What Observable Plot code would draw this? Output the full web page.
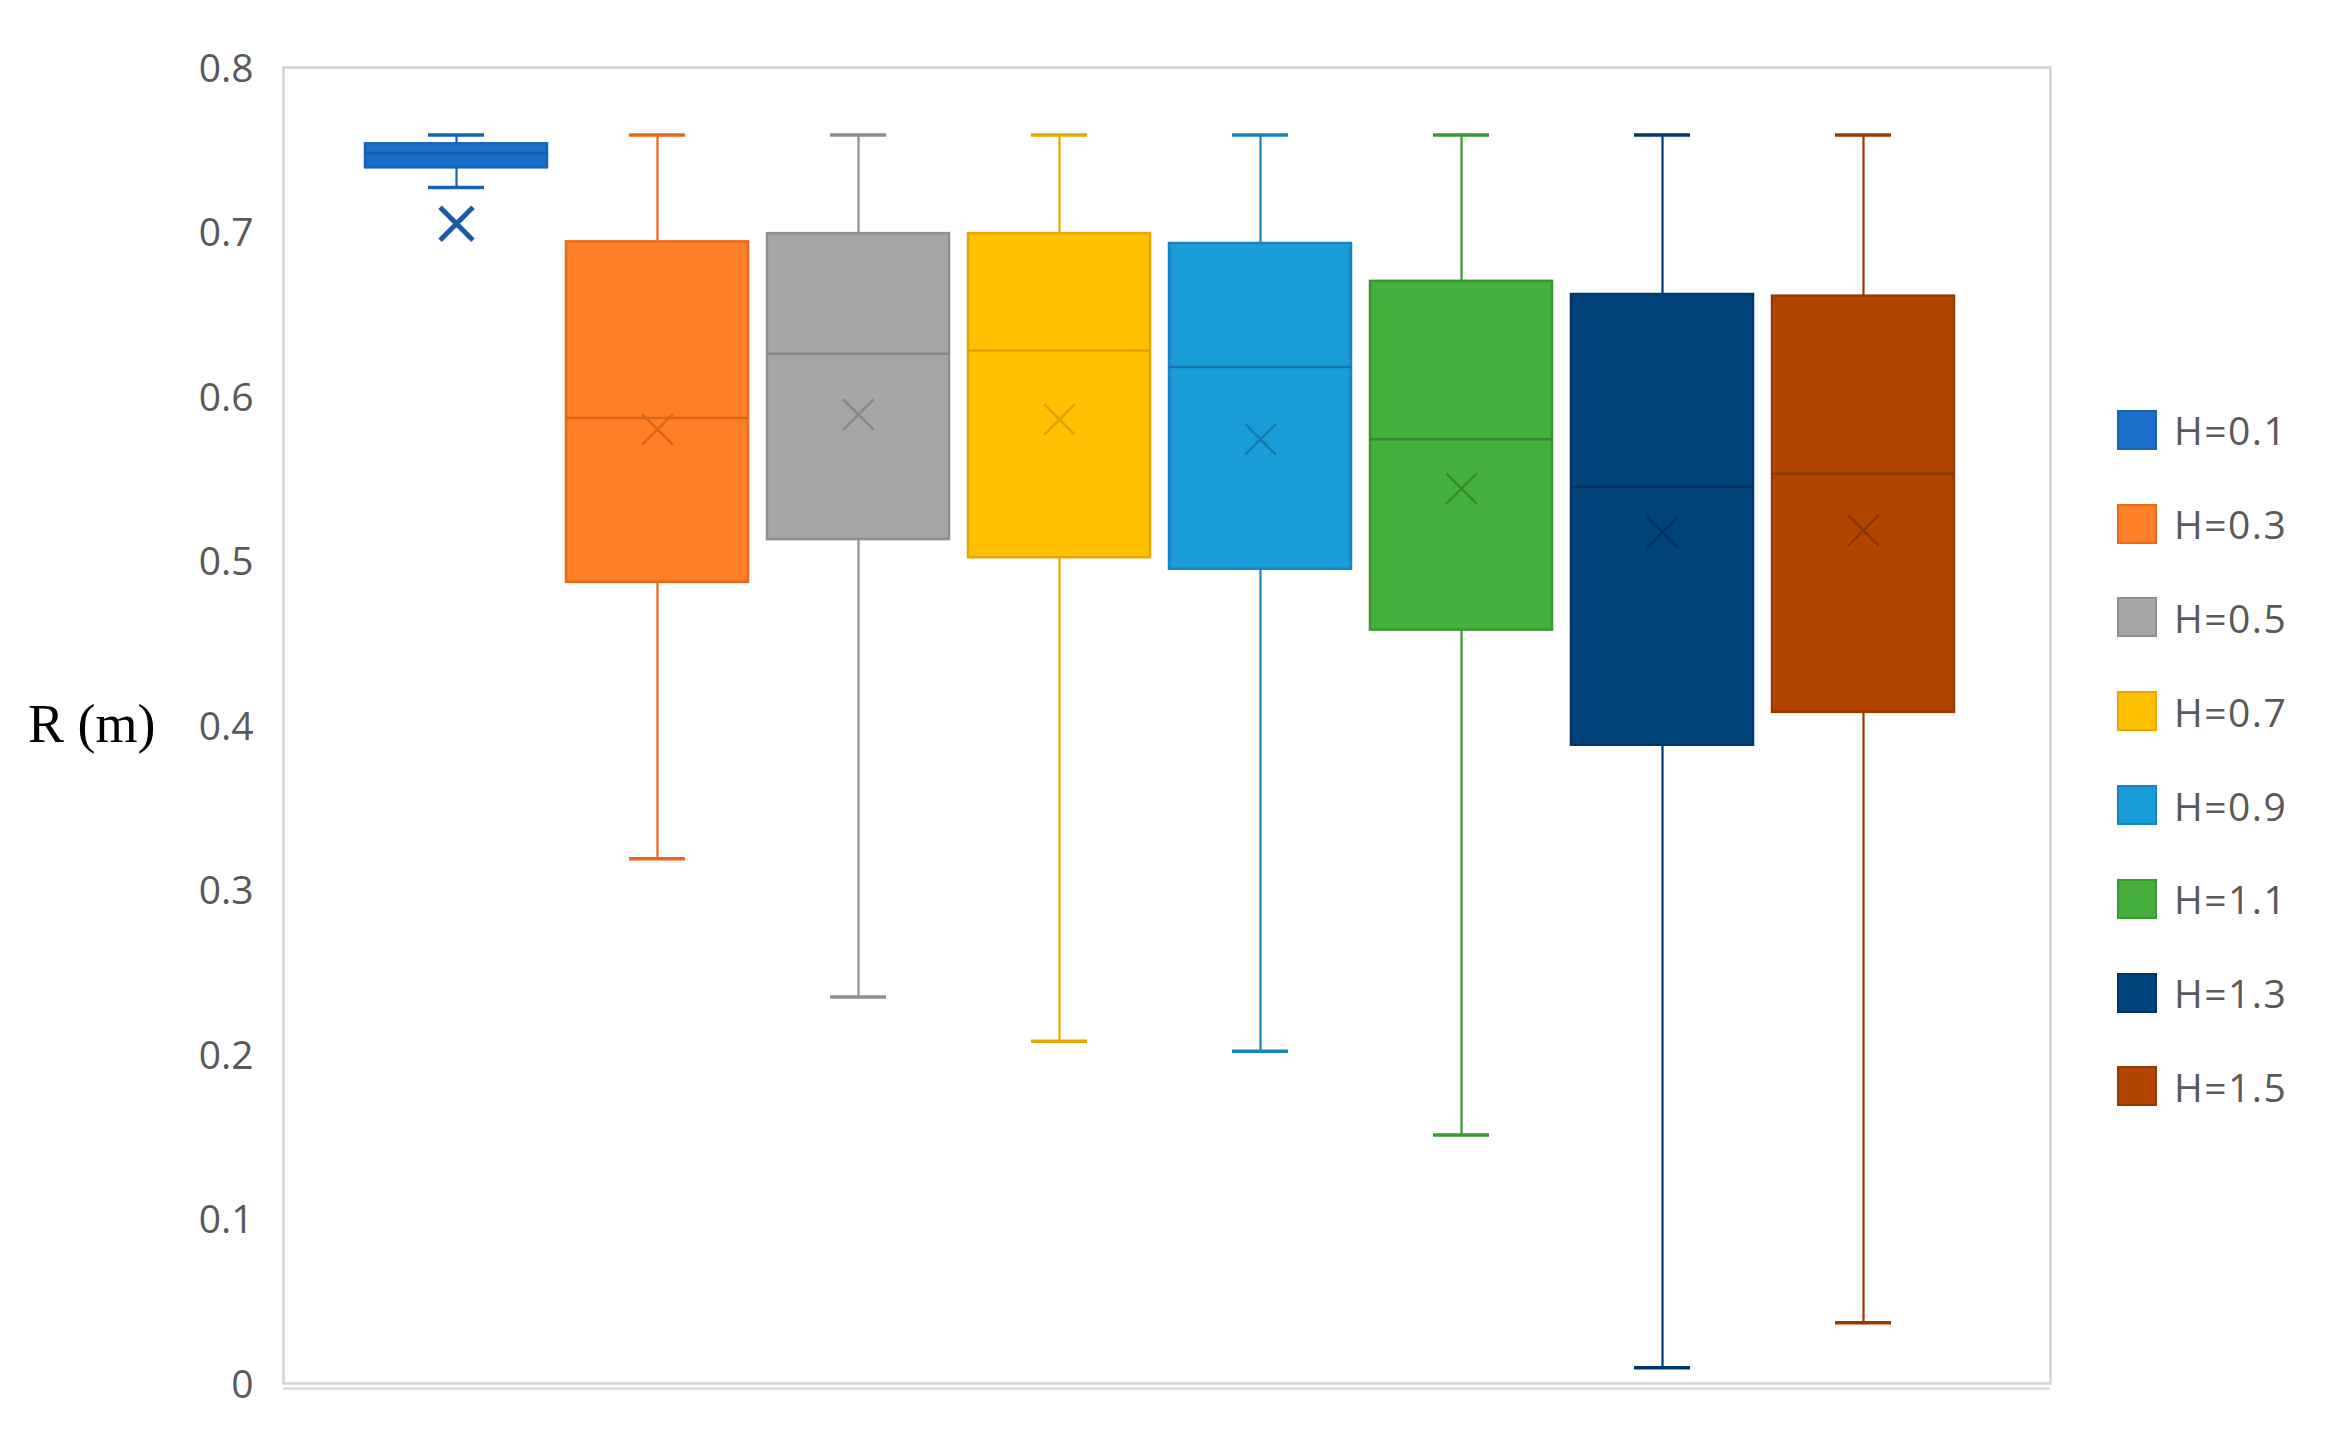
<!DOCTYPE html>
<html>
<head>
<meta charset="utf-8">
<script src="https://cdn.jsdelivr.net/npm/d3@7"></script>
<script src="https://cdn.jsdelivr.net/npm/@observablehq/plot@0.6"></script>
<style>
  html, body { margin: 0; padding: 0; background: #ffffff; }
  #wrap { position: relative; width: 2335px; height: 1437px; overflow: hidden; }
  #chart { position: absolute; left: 0; top: 0; }
  #ytitle { position: absolute; left: 28px; top: 693px; font-family: "Liberation Serif", "DejaVu Serif", serif; font-size: 54px; color: #000; white-space: nowrap; }
  #legend { position: absolute; left: 2117px; top: 383px; font-family: "Open Sans", "Noto Sans", sans-serif; font-size: 39px; letter-spacing: 1.5px; color: #595959; }
  .row { display: flex; align-items: center; height: 93.8px; }
  .sw { width: 40px; height: 40px; box-sizing: border-box; border: 2px solid; margin-right: 17px; }
</style>
</head>
<body>
<div id="wrap">
  <div id="chart"></div>
  <div id="ytitle">R (m)</div>
  <div id="legend"></div>
</div>
<script>
const names   = ["H=0.1", "H=0.3", "H=0.5", "H=0.7", "H=0.9", "H=1.1", "H=1.3", "H=1.5"];
const mins    = [0.727, 0.319, 0.235, 0.208, 0.202, 0.151, 0.0095, 0.037];
const q1s     = [0.739, 0.487, 0.513, 0.502, 0.495, 0.458, 0.388, 0.408];
const medians = [0.748, 0.587, 0.626, 0.628, 0.618, 0.574, 0.545, 0.553];
const q3s     = [0.7536, 0.694, 0.699, 0.699, 0.693, 0.670, 0.662, 0.661];
const maxs    = [0.759, 0.759, 0.759, 0.759, 0.759, 0.759, 0.759, 0.759];
const means   = [0.705, 0.580, 0.589, 0.586, 0.574, 0.544, 0.5175, 0.5185];
const yTicks  = [0, 0.1, 0.2, 0.3, 0.4, 0.5, 0.6, 0.7, 0.8];

const fills   = ["#1a6fca", "#fe7f27", "#a6a6a6", "#ffc000", "#199cd8", "#46b03c", "#00427a", "#b34501"];
const strokes = ["#1663b8", "#e8691c", "#8f8f8f", "#e6a800", "#1585bd", "#3a9632", "#00366a", "#983a00"];
const markCol = ["#1a5aa6", "#d9651a", "#888888", "#dca100", "#1679ad", "#358a2e", "#00305c", "#8e3600"];

const data = names.map((name, i) => ({
  name, min: mins[i], q1: q1s[i], median: medians[i], q3: q3s[i], max: maxs[i], mean: means[i],
  fill: fills[i], stroke: strokes[i], mk: markCol[i]
}));

const first = data.slice(0, 1);
const rest = data.slice(1);

const chart = Plot.plot({
  width: 2335,
  height: 1437,
  marginLeft: 283,
  marginRight: 285,
  marginTop: 67,
  marginBottom: 54,
  style: { fontFamily: "'Open Sans', 'Noto Sans', sans-serif", fontSize: "39px", color: "#595959", background: "#fff" },
  x: { domain: names, insetLeft: 82, insetRight: 96, paddingInner: 0.095, paddingOuter: 0, axis: null },
  y: { domain: [0, 0.8], ticks: yTicks, tickFormat: d => d === 0 ? "0" : d.toFixed(1), tickSize: 0, tickPadding: 30, label: null },
  color: { type: "identity" },
  marks: [
    Plot.frame({ stroke: "#d2d2d2", strokeWidth: 2.5 }),
    Plot.ruleY([0], { stroke: "#d9d9d9", strokeWidth: 2.5, dy: 5 }),
    // whiskers
    Plot.ruleX(data, { x: "name", y1: "q3", y2: "max", stroke: "stroke", strokeWidth: 2.2 }),
    Plot.ruleX(data, { x: "name", y1: "min", y2: "q1", stroke: "stroke", strokeWidth: 2.2 }),
    Plot.tickY(data, { x: "name", y: "max", stroke: "stroke", strokeWidth: 3.5, insetLeft: 63, insetRight: 63 }),
    Plot.tickY(data, { x: "name", y: "min", stroke: "stroke", strokeWidth: 3.5, insetLeft: 63, insetRight: 63 }),
    // boxes
    Plot.barY(data, { x: "name", y1: "q1", y2: "q3", fill: "fill", stroke: "stroke", strokeWidth: 2.5 }),
    Plot.tickY(data, { x: "name", y: "median", stroke: "mk", strokeWidth: 2.5 }),
    // means
    Plot.dot(rest, { x: "name", y: "mean", symbol: "times", r: 14, stroke: "mk", strokeWidth: 2.5 }),
    Plot.dot(first, { x: "name", y: "mean", symbol: "times", r: 15, stroke: "mk", strokeWidth: 5 })
  ]
});
chart.querySelectorAll("g[aria-label='y-axis tick label']").forEach(e => { e.setAttribute("fill", "#595959"); e.setAttribute("transform", (e.getAttribute("transform") || "") + " translate(0,2)"); });
document.getElementById("chart").appendChild(chart);

const legend = document.getElementById("legend");
data.forEach(d => {
  const row = document.createElement("div");
  row.className = "row";
  const sw = document.createElement("div");
  sw.className = "sw";
  sw.style.background = d.fill;
  sw.style.borderColor = d.stroke;
  const t = document.createElement("span");
  t.textContent = d.name;
  row.appendChild(sw);
  row.appendChild(t);
  legend.appendChild(row);
});
</script>
</body>
</html>
